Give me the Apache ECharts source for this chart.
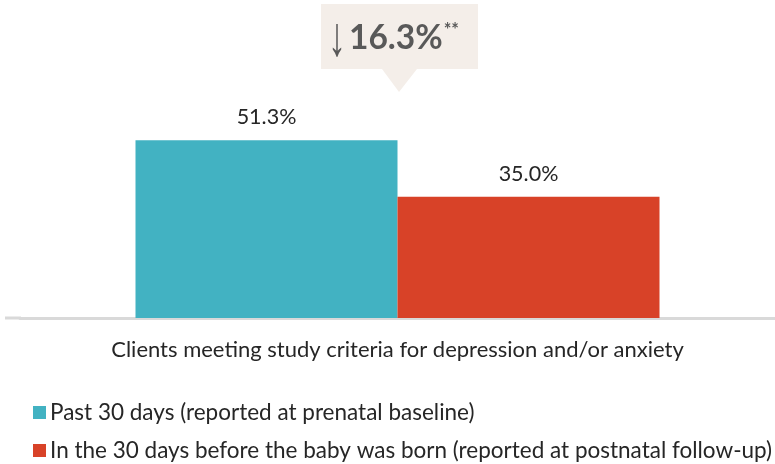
<!DOCTYPE html>
<html><head><meta charset="utf-8">
<script src="https://cdn.jsdelivr.net/npm/echarts@6/dist/echarts.min.js"></script>
<style>html,body{margin:0;padding:0;background:#fff}#c{width:775px;height:464px}</style>
</head><body><div id="c"></div>
<script>
const categories = ['Clients meeting study criteria for depression and/or anxiety'];
const seriesNames = ['Past 30 days (reported at prenatal baseline)', 'In the 30 days before the baby was born (reported at postnatal follow-up)'];
const baselineValues = [51.3];
const followupValues = [35.0];
const changeText = '16.3%';

const FONT = 'Lato';
const TXT = '#262626';
const chart = echarts.init(document.getElementById('c'));
const legendBase = {
  left: 33, padding: 0, itemWidth: 13, itemHeight: 13, icon: 'rect', itemGap: 0,
  textStyle: {color: TXT, fontSize: 22.5, fontFamily: FONT, padding: [0, 0, 0, -1]}
};
chart.setOption({
  animation: false,
  textStyle: {fontFamily: FONT},
  grid: {left: 20, right: 0, top: 110, bottom: 146},
  xAxis: {
    type: 'category', data: categories,
    axisLine: {lineStyle: {color: '#d9d9d9', width: 3}},
    axisTick: {show: false},
    axisLabel: {color: TXT, fontSize: 22, margin: 21, fontFamily: FONT}
  },
  yAxis: {type: 'value', min: 0, max: 60, show: false, splitLine: {show: false}},
  legend: [
    Object.assign({}, legendBase, {top: 401, data: [seriesNames[0]]}),
    Object.assign({}, legendBase, {top: 439, data: [seriesNames[1]]})
  ],
  series: [
    {name: seriesNames[0], type: 'bar', data: baselineValues, barWidth: 262, barGap: '0%',
     itemStyle: {color: '#42b2c2'},
     label: {show: true, position: 'top', distance: 12, color: TXT, fontSize: 21.5, fontFamily: FONT,
             formatter: p => p.value.toFixed(1) + '%'}},
    {name: seriesNames[1], type: 'bar', data: followupValues, barWidth: 262,
     itemStyle: {color: '#d84228'},
     label: {show: true, position: 'top', distance: 12, color: TXT, fontSize: 21.5, fontFamily: FONT,
             formatter: p => p.value.toFixed(1) + '%'}}
  ],
  graphic: [
    {type: 'line', shape: {x1: 5, y1: 318, x2: 21, y2: 318}, style: {stroke: '#d9d9d9', lineWidth: 3}, z: 0},
    {type: 'rect', shape: {x: 321, y: 4, width: 157, height: 65}, style: {fill: '#f4eee9'}},
    {type: 'polygon', shape: {points: [[382, 69], [417, 69], [399, 92]]}, style: {fill: '#f4eee9'}},
    {type: 'text', x: 337, y: 40, scaleY: 1.55, style: {
      text: '↓', align: 'center', verticalAlign: 'middle',
      fontSize: 36, fontFamily: 'Liberation Sans', fill: '#595959'
    }},
    {type: 'text', x: 349, y: 38, style: {
      text: '{b|' + changeText + '}{c|**}',
      verticalAlign: 'middle',
      rich: {
        b: {fontSize: 33.5, fontFamily: FONT, fontWeight: 'bold', fill: '#595959'},
        c: {fontSize: 18, fontFamily: FONT, fontWeight: 'bold', fill: '#595959', verticalAlign: 'top', padding: [0, 0, 16, 1]}
      }
    }}
  ]
});
</script></body></html>
